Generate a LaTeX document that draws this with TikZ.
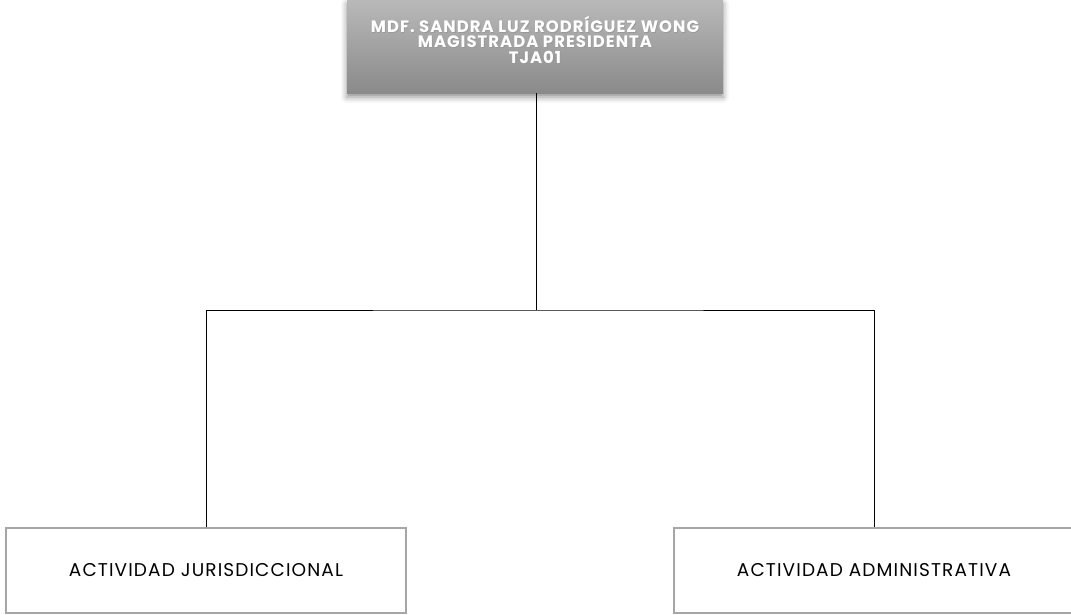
\documentclass[tikz,border=0pt]{standalone}
\usepackage{fontspec}
\setmainfont{Poppins}
\newfontfamily\headfont[LetterSpace=6]{Poppins}
\newfontfamily\unitfont[LetterSpace=6]{Poppins}
\usetikzlibrary{shadows.blur}
\definecolor{boxline}{HTML}{A6A6A6}
\definecolor{gtop}{HTML}{B9B9B9}
\definecolor{gbot}{HTML}{8A8A8A}
\tikzset{
  headbox/.style={minimum width=376pt, minimum height=93pt, inner sep=0pt,
    top color=gtop, bottom color=gbot, draw=none,
    blur shadow={shadow xshift=0pt, shadow yshift=-4pt, shadow blur radius=6pt, shadow opacity=45}},
  headtext/.style={align=center, font=\headfont\fontsize{16.5}{15.5}\selectfont\bfseries, text=white, inner sep=0pt},
  headshadow/.style={headtext, text=black!40},
  unitbox/.style={draw=boxline, line width=2pt, fill=white, minimum width=400pt, minimum height=85pt, inner sep=0pt,
    font=\unitfont\fontsize{18.5}{20}\selectfont},
  link/.style={draw=black, line width=1pt}
}
\begin{document}
\begin{tikzpicture}[x=1pt,y=-1pt]
\useasboundingbox (0,0) rectangle (1071,614);
\clip (0,0) rectangle (1071,614);
\node[headbox] (head) at (535,46.5) {};
\node[headshadow] (headsh) at (535.8,40.8) {MDF. SANDRA LUZ RODRÍGUEZ WONG\\MAGISTRADA PRESIDENTA\\TJA01};
\node[headtext] (headtx) at (535,40) {MDF. SANDRA LUZ RODRÍGUEZ WONG\\MAGISTRADA PRESIDENTA\\TJA01};
\node[unitbox] (jur) at (206,570.5) {ACTIVIDAD JURISDICCIONAL};
\node[unitbox] (adm) at (874,570.5) {ACTIVIDAD ADMINISTRATIVA};
\coordinate (split) at (536,310);
\draw[link] (head.south -| split) -- (split);
\draw[link] (jur.north) |- (split) -| (adm.north);
\end{tikzpicture}
\end{document}
